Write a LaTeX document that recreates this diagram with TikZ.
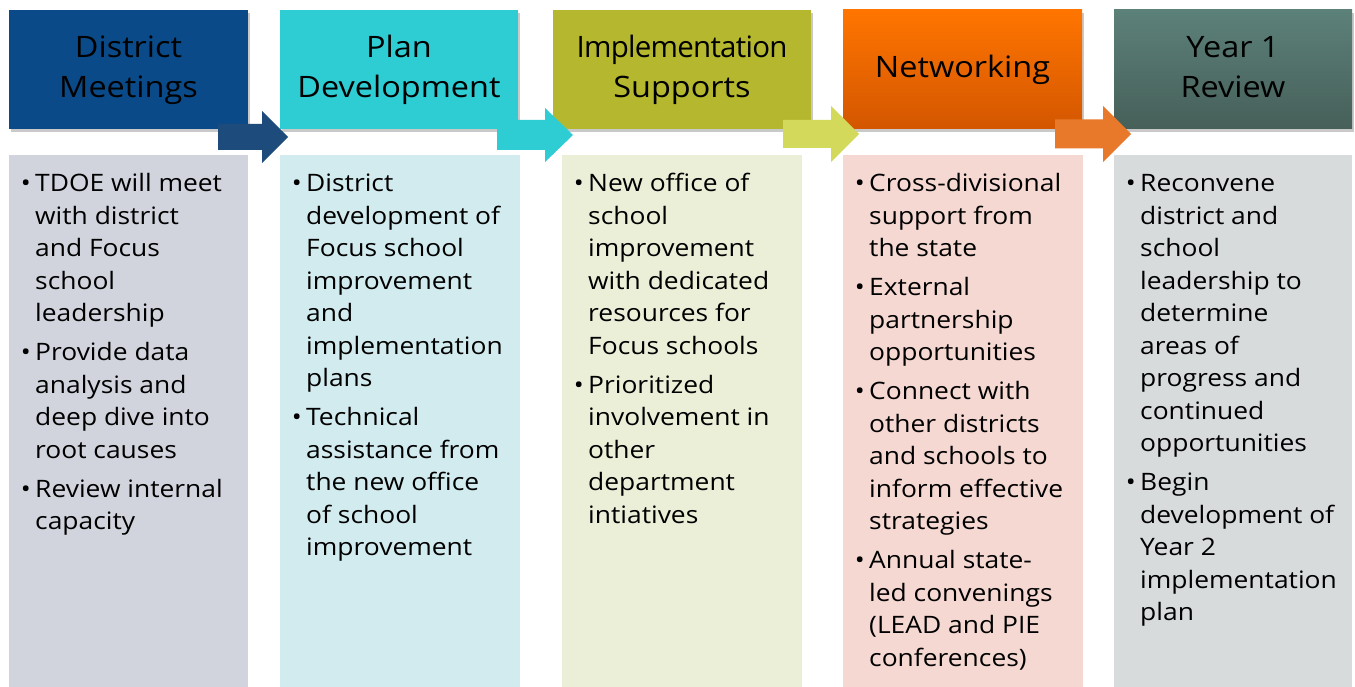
\documentclass[tikz,border=0pt]{standalone}
\usepackage{fontspec}
\setmainfont{Open Sans}[FakeStretch=1.1]
\newfontfamily\implfont{Open Sans}[LetterSpace=-2.5]
\usetikzlibrary{shadows}

\definecolor{meetcol}{HTML}{0B4A88}
\definecolor{meetarrow}{HTML}{1D4B7B}
\definecolor{meetbody}{HTML}{D1D4DD}
\definecolor{plancol}{HTML}{2ECCD3}
\definecolor{planbody}{HTML}{D2EBEF}
\definecolor{implcol}{HTML}{B5B82E}
\definecolor{implarrow}{HTML}{D3D95B}
\definecolor{implbody}{HTML}{ECEFD8}
\definecolor{nettop}{HTML}{FF7500}
\definecolor{netbot}{HTML}{D35600}
\definecolor{netarrow}{HTML}{E8792A}
\definecolor{netbody}{HTML}{F5D8D1}
\definecolor{revtop}{HTML}{5C8179}
\definecolor{revbot}{HTML}{465F59}
\definecolor{revbody}{HTML}{D7DBDC}

\newcommand{\bul}{\strut\llap{\textbullet\hspace{4.5pt}}}

\tikzset{
  hdr/.style={minimum height=119pt, inner sep=0pt, align=center,
    font=\fontsize{29.5}{40}\selectfont,
    drop shadow={shadow xshift=2pt, shadow yshift=-3pt, opacity=0.35, fill=black!60}},
  bodybox/.style={anchor=north west, minimum height=532pt, inner sep=0pt},
  bodytext/.style={anchor=north west, inner sep=0pt, align=left,
    xshift=26pt, yshift=-14pt, font=\fontsize{24}{32.5}\selectfont},
}

\begin{document}
\begin{tikzpicture}[x=1pt, y=-1pt]
  \fill[white] (0,0) rectangle (1355,687);
  \useasboundingbox (0,0) rectangle (1355,687);

  % headers
  \node[hdr, fill=meetcol, minimum width=239pt] (hdrMeet) at (128.5,69.5) {\strut District\\\strut Meetings};
  \node[hdr, fill=plancol, minimum width=238pt] (hdrPlan) at (399,69.5) {\strut Plan\\\strut Development};
  \node[hdr, fill=implcol, minimum width=258pt] (hdrImpl) at (682,69.5)
    {\strut{\implfont Implementation}\\\strut Supports};
  \node[hdr, top color=nettop, bottom color=netbot, minimum width=239pt] (hdrNet) at (962.5,69.5) {\strut Networking};
  \node[hdr, top color=revtop, bottom color=revbot, minimum width=238pt] (hdrRev) at (1233,69.5) {\strut Year 1\\\strut Review};

  % arrows between the steps
  \foreach \xa/\xb/\xt/\yc/\hs/\hh/\col in {218/262/288/137/13/26/meetarrow,
      497/545/573/135/15/27/plancol, 783/831/859/134/14/28/implarrow,
      1055/1103/1131/134/14.5/28/netarrow}
    \fill[\col] (\xa,\yc-\hs) -- (\xb,\yc-\hs) -- (\xb,\yc-\hh) -- (\xt,\yc)
      -- (\xb,\yc+\hh) -- (\xb,\yc+\hs) -- (\xa,\yc+\hs) -- cycle;

  % bodies
  \node[bodybox, fill=meetbody, minimum width=239pt] (bodyMeet) at (9,155) {};
  \node[bodybox, fill=planbody, minimum width=240pt] (bodyPlan) at (280,155) {};
  \node[bodybox, fill=implbody, minimum width=240pt] (bodyImpl) at (562,155) {};
  \node[bodybox, fill=netbody, minimum width=240pt] (bodyNet) at (843,155) {};
  \node[bodybox, fill=revbody, minimum width=238pt] (bodyRev) at (1114,155) {};

  \node[bodytext] (txtMeet) at (bodyMeet.north west) {%
    \bul TDOE will meet\\with district\\and Focus\\school\\leadership\\[6.5pt]
    \bul Provide data\\analysis and\\deep dive into\\root causes\\[6.5pt]
    \bul Review internal\\capacity};
  \node[bodytext] (txtPlan) at (bodyPlan.north west) {%
    \bul District\\development of\\Focus school\\improvement\\and\\implementation\\plans\\[6.5pt]
    \bul Technical\\assistance from\\the new office\\of school\\improvement};
  \node[bodytext] (txtImpl) at (bodyImpl.north west) {%
    \bul New office of\\school\\improvement\\with dedicated\\resources for\\Focus schools\\[6.5pt]
    \bul Prioritized\\involvement in\\other\\department\\intiatives};
  \node[bodytext] (txtNet) at (bodyNet.north west) {%
    \bul Cross-divisional\\support from\\the state\\[6.5pt]
    \bul External\\partnership\\opportunities\\[6.5pt]
    \bul Connect with\\other districts\\and schools to\\inform effective\\strategies\\[6.5pt]
    \bul Annual state-\\led convenings\\(LEAD and PIE\\conferences)};
  \node[bodytext] (txtRev) at (bodyRev.north west) {%
    \bul Reconvene\\district and\\school\\leadership to\\determine\\areas of\\progress and\\continued\\opportunities\\[6.5pt]
    \bul Begin\\development of\\Year 2\\implementation\\plan};
\end{tikzpicture}
\end{document}
